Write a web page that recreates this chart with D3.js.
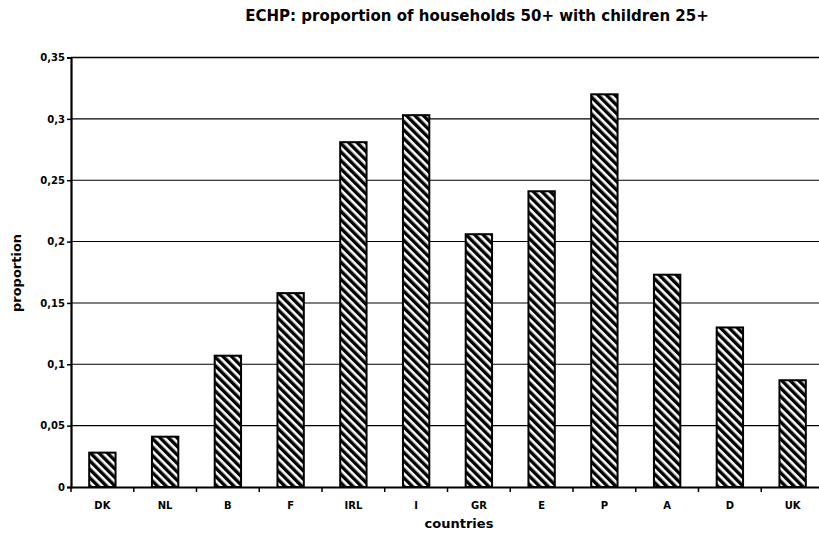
<!DOCTYPE html>
<html>
<head>
<meta charset="utf-8">
<script src="https://cdn.jsdelivr.net/npm/d3@7"></script>
<style>
  body { margin: 0; background: #fff; }
  svg { display: block; }
  text { font-family: "DejaVu Sans", "Liberation Sans", Arial, sans-serif; font-weight: bold; fill: #000; }
</style>
</head>
<body>
<div id="chart"></div>
<script>
const countries = ["DK", "NL", "B", "F", "IRL", "I", "GR", "E", "P", "A", "D", "UK"];
const proportions = [0.028, 0.041, 0.107, 0.158, 0.281, 0.303, 0.206, 0.241, 0.320, 0.173, 0.130, 0.087];
const yTicks = [0, 0.05, 0.1, 0.15, 0.2, 0.25, 0.3, 0.35];
const yTickLabels = ["0", "0,05", "0,1", "0,15", "0,2", "0,25", "0,3", "0,35"];

const width = 819, height = 538;
const plotLeft = 71, plotRight = 824, plotTop = 57.5, plotBottom = 487;

const svg = d3.select("#chart").append("svg")
  .attr("width", width)
  .attr("height", height);

const defs = svg.append("defs");
const hatch = defs.append("pattern")
  .attr("id", "hatch")
  .attr("patternUnits", "userSpaceOnUse")
  .attr("width", 6)
  .attr("height", 6)
  .attr("patternTransform", "rotate(-45)");
hatch.append("rect").attr("width", 6).attr("height", 6).attr("fill", "#fff");
hatch.append("rect").attr("width", 3.4).attr("height", 6).attr("fill", "#000");

const x = d3.scaleBand().domain(countries).range([plotLeft, plotRight]).paddingInner(0.58).paddingOuter(0.29);
const xTicks = d3.scaleBand().domain(countries).range([plotLeft, plotRight]);
const y = d3.scaleLinear().domain([0, 0.35]).range([plotBottom, plotTop]);

// gridlines
svg.append("g")
  .selectAll("line")
  .data(yTicks.slice(1))
  .join("line")
  .attr("x1", plotLeft)
  .attr("x2", width)
  .attr("y1", d => y(d))
  .attr("y2", d => y(d))
  .attr("stroke", "#000")
  .attr("stroke-width", d => d === 0.35 ? 1.6 : 1.1);

// bars
svg.append("g")
  .selectAll("rect")
  .data(proportions)
  .join("rect")
  .attr("x", (d, i) => x(countries[i]))
  .attr("y", d => y(d))
  .attr("width", x.bandwidth())
  .attr("height", d => plotBottom - y(d))
  .attr("fill", "url(#hatch)")
  .attr("stroke", "#000")
  .attr("stroke-width", 2);

// y axis
const yAxis = svg.append("g")
  .attr("transform", `translate(${plotLeft},0)`)
  .call(d3.axisLeft(y).tickValues(yTicks).tickFormat((d, i) => yTickLabels[i]).tickSize(4).tickPadding(2));
yAxis.select(".domain").attr("stroke-width", 2.2);
yAxis.selectAll(".tick line").attr("stroke-width", 1.5);
yAxis.selectAll("text").style("font-size", "10px");

// x axis
const xAxis = svg.append("g")
  .attr("transform", `translate(0,${plotBottom})`)
  .call(d3.axisBottom(xTicks).tickSize(0).tickPadding(15));
xAxis.select(".domain").attr("stroke-width", 2.2);
xAxis.selectAll("text").style("font-size", "10px");
xAxis.append("g")
  .selectAll("line")
  .data(countries)
  .join("line")
  .attr("x1", d => xTicks(d))
  .attr("x2", d => xTicks(d))
  .attr("y1", 0)
  .attr("y2", 5)
  .attr("stroke", "#000")
  .attr("stroke-width", 1.5);

// titles
svg.append("text")
  .attr("x", 477)
  .attr("y", 21)
  .attr("text-anchor", "middle")
  .style("font-size", "15px")
  .text("ECHP: proportion of households 50+ with children 25+");

svg.append("text")
  .attr("x", 459)
  .attr("y", 528)
  .attr("text-anchor", "middle")
  .style("font-size", "13px")
  .text("countries");

svg.append("text")
  .attr("transform", "translate(20.5,273) rotate(-90)")
  .attr("text-anchor", "middle")
  .style("font-size", "13px")
  .text("proportion");
</script>
</body>
</html>
